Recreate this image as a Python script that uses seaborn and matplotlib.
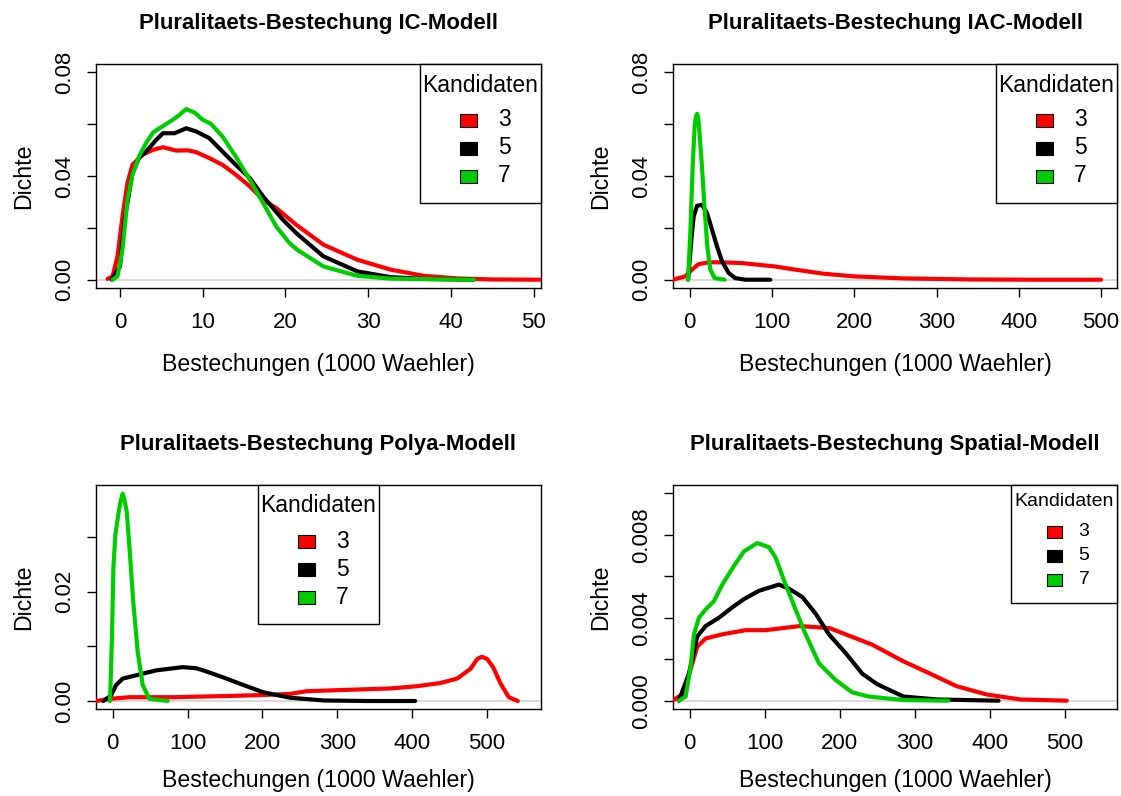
import numpy as np
import pandas as pd
import matplotlib
matplotlib.use("Agg")
import matplotlib.pyplot as plt
from matplotlib.patches import Rectangle
from matplotlib.transforms import Affine2D
import seaborn as sns

# ---------------------------------------------------------------------------
# Estimated densities of the bribery cost (in 1000 voters) per model and
# number of candidates
# ---------------------------------------------------------------------------
CANDIDATES = ["3", "5", "7"]
COLORS = {"3": "#FF0000", "5": "#000000", "7": "#00CD00"}

# IC model
ic_x3 = [-1.5, -0.9, -0.3, 0.3, 0.9, 1.5, 2.7, 4.0, 5.2, 6.8, 8.2, 9.2, 10.8,
         12.4, 14.0, 15.7, 17.3, 18.9, 21.3, 24.6, 28.7, 32.7, 36.7, 40.8, 45.0,
         50.8]
ic_y3 = [0.0003, 0.0013, 0.0090, 0.0244, 0.0373, 0.0443, 0.0482, 0.0501, 0.0511,
         0.0498, 0.0499, 0.0492, 0.0469, 0.0443, 0.0405, 0.0360, 0.0308, 0.0276,
         0.0212, 0.0135, 0.0077, 0.0039, 0.0015, 0.0005, 0.0001, 0.0]
ic_x5 = [-1.0, 0.0, 0.6, 1.5, 2.3, 3.15, 4.4, 5.2, 6.6, 8.0, 9.2, 10.8, 12.4,
         14.0, 15.7, 17.3, 19.7, 21.3, 24.6, 28.7, 32.7, 36.7, 42.8]
ic_y5 = [0.0, 0.0051, 0.0240, 0.0410, 0.0470, 0.0494, 0.0540, 0.0565, 0.0565,
         0.0584, 0.0572, 0.0546, 0.0494, 0.0443, 0.0392, 0.0321, 0.0231, 0.0180,
         0.0090, 0.0032, 0.0010, 0.0003, 0.0]
ic_x7 = [-0.9, -0.3, 0.3, 0.9, 1.5, 2.3, 3.15, 4.0, 5.2, 6.4, 7.2, 8.0, 9.0,
         10.0, 11.0, 12.4, 14.0, 15.7, 17.3, 18.9, 20.5, 21.4, 24.6, 28.7, 32.7,
         42.8]
ic_y7 = [0.0, 0.0013, 0.0116, 0.0308, 0.0405, 0.0475, 0.0527, 0.0568, 0.0593,
         0.0617, 0.0636, 0.0658, 0.0645, 0.0617, 0.0601, 0.0552, 0.0475, 0.0385,
         0.0296, 0.0205, 0.0141, 0.0116, 0.0051, 0.0015, 0.0004, 0.0]

# IAC model
iac_x3 = [-20.3, -5.2, 2.9, 10.9, 23.1, 40.0, 63.7, 104.0, 128.0, 163.0, 199.0,
          260.0, 341.0, 420.0, 500.0]
iac_y3 = [0.0, 0.0013, 0.0039, 0.0060, 0.0067, 0.0067, 0.0064, 0.0051, 0.0039,
          0.0023, 0.0013, 0.0005, 0.0001, 0.0, 0.0]
iac_x5 = [-1.9, 2.1, 4.9, 9.0, 15.0, 21.1, 27.2, 33.3, 39.4, 47.4, 55.5, 67.7,
          98.0]
iac_y5 = [0.0, 0.0154, 0.0244, 0.0285, 0.0289, 0.0257, 0.0193, 0.0128, 0.0071,
          0.0026, 0.0006, 0.0, 0.0]
iac_x7 = [-1.9, 0.85, 3.7, 6.1, 7.6, 9.0, 10.3, 11.4, 15.0, 18.3, 21.5, 25.2,
          30.4, 42.5]
iac_y7 = [0.0, 0.0180, 0.0437, 0.0591, 0.0628, 0.0640, 0.0628, 0.0591, 0.0437,
          0.0270, 0.0128, 0.0039, 0.0006, 0.0]

# Polya model
pol_x3 = [-21.4, -3.6, 23.0, 81.0, 148.0, 201.0, 237.0, 259.0, 282.0, 326.0,
          371.0, 406.0, 438.0, 460.0, 478.0, 487.0, 493.0, 500.0, 508.0, 518.0,
          529.0, 541.0]
pol_y3 = [0.0, 0.0004, 0.0007, 0.0007, 0.0009, 0.0011, 0.0013, 0.0018, 0.0019,
          0.0021, 0.0023, 0.0027, 0.0033, 0.0041, 0.0059, 0.0077, 0.0081, 0.0077,
          0.0062, 0.0032, 0.0007, 0.0]
pol_x5 = [-12.5, -2.3, 4.4, 13.4, 31.1, 57.9, 93.6, 111.0, 121.0, 148.0, 175.0,
          201.0, 237.0, 282.0, 340.0, 404.0]
pol_y5 = [0.0, 0.0010, 0.0029, 0.0041, 0.0047, 0.0056, 0.0062, 0.0060, 0.0056,
          0.0043, 0.0029, 0.0016, 0.0006, 0.0001, 0.0, 0.0]
pol_x7 = [-3.6, -0.9, 0.9, 3.5, 8.0, 11.0, 13.4, 16.0, 18.7, 22.2, 27.5, 33.4,
          40.1, 49.0, 73.5]
pol_y7 = [0.0, 0.0120, 0.0242, 0.0303, 0.0346, 0.0368, 0.0379, 0.0366, 0.0346,
          0.0285, 0.0181, 0.0090, 0.0029, 0.0004, 0.0]

# Spatial model
sp_x3 = [-23.0, -9.7, 1.3, 10.2, 21.4, 43.6, 74.7, 101.3, 146.7, 186.7, 208.0,
         243.6, 285.0, 321.0, 356.0, 396.0, 441.0, 503.0]
sp_y3 = [0.0, 0.0003, 0.0015, 0.0026, 0.0030, 0.0032, 0.0034, 0.0034, 0.0036,
         0.0035, 0.0032, 0.0027, 0.0019, 0.0013, 0.0007, 0.0003, 0.00006, 0.0]
sp_x5 = [-14.2, -0.9, 10.2, 21.4, 39.2, 56.9, 72.5, 92.5, 110.3, 119.2, 132.5,
         150.3, 168.0, 185.8, 208.0, 230.3, 250.0, 285.0, 330.0, 412.0]
sp_y5 = [0.0, 0.0013, 0.0031, 0.0036, 0.0040, 0.0045, 0.0049, 0.0053, 0.0055,
         0.0056, 0.0054, 0.0050, 0.0042, 0.0032, 0.0023, 0.0013, 0.0008, 0.0002,
         0.00006, 0.0]
sp_x7 = [-14.2, -5.3, 1.3, 5.8, 12.5, 21.4, 32.5, 43.6, 59.2, 72.5, 90.3, 105.8,
         114.7, 128.0, 141.3, 154.7, 172.5, 194.7, 217.0, 239.0, 285.0, 345.0]
sp_y7 = [0.0, 0.0002, 0.0016, 0.0032, 0.0040, 0.0044, 0.0048, 0.0056, 0.0065,
         0.0072, 0.0076, 0.0074, 0.0069, 0.0056, 0.0044, 0.0032, 0.0018, 0.0010,
         0.0004, 0.0002, 0.00003, 0.0]

TITLES = ["Pluralitaets-Bestechung IC-Modell",
          "Pluralitaets-Bestechung IAC-Modell",
          "Pluralitaets-Bestechung Polya-Modell",
          "Pluralitaets-Bestechung Spatial-Modell"]
X_LABEL = "Bestechungen (1000 Waehler)"
Y_LABEL = "Dichte"
LEGEND_TITLE = "Kandidaten"

X_TICKS_IC = [0, 10, 20, 30, 40, 50]
X_TICKS_WIDE = [0, 100, 200, 300, 400, 500]
Y_TICKS_08 = [0.00, 0.02, 0.04, 0.06, 0.08]
Y_LABELS_08 = ["0.00", "", "0.04", "", "0.08"]
Y_TICKS_03 = [0.00, 0.01, 0.02, 0.03]
Y_LABELS_03 = ["0.00", "", "0.02", ""]
Y_TICKS_010 = [0.000, 0.002, 0.004, 0.006, 0.008, 0.010]
Y_LABELS_010 = ["0.000", "", "0.004", "", "0.008", ""]


def frame(xs, ys):
    parts = []
    for k, x, y in zip(CANDIDATES, xs, ys):
        parts.append(pd.DataFrame({"x": x, "y": y, "k": k}))
    return pd.concat(parts, ignore_index=True)


panels = [
    dict(df=frame([ic_x3, ic_x5, ic_x7], [ic_y3, ic_y5, ic_y7]),
         xlim=(-2.9, 50.9), ylim=(-0.0032, 0.0832),
         xticks=X_TICKS_IC, yticks=Y_TICKS_08, ylabels=Y_LABELS_08,
         rect=[96, 64, 445, 224], key="right", xpad=14.5),
    dict(df=frame([iac_x3, iac_x5, iac_x7], [iac_y3, iac_y5, iac_y7]),
         xlim=(-20.2, 519.3), ylim=(-0.0032, 0.0832),
         xticks=X_TICKS_WIDE, yticks=Y_TICKS_08, ylabels=Y_LABELS_08,
         rect=[673, 64, 444, 224], key="right", xpad=14.5),
    dict(df=frame([pol_x3, pol_x5, pol_x7], [pol_y3, pol_y5, pol_y7]),
         xlim=(-22.3, 572.0), ylim=(-0.00146, 0.0395),
         xticks=X_TICKS_WIDE, yticks=Y_TICKS_03, ylabels=Y_LABELS_03,
         rect=[96, 485, 445, 224], key="mid", xpad=11),
    dict(df=frame([sp_x3, sp_x5, sp_x7], [sp_y3, sp_y5, sp_y7]),
         xlim=(-22.1, 569.9), ylim=(-0.0004, 0.0104),
         xticks=X_TICKS_WIDE, yticks=Y_TICKS_010, ylabels=Y_LABELS_010,
         rect=[673, 485, 444, 224], key="small", xpad=11),
]

sns.set_theme(style="ticks")
plt.rcParams["font.family"] = ["Liberation Sans", "DejaVu Sans"]
plt.rcParams["text.color"] = "black"
plt.rcParams["axes.labelcolor"] = "black"
plt.rcParams["xtick.color"] = "black"
plt.rcParams["ytick.color"] = "black"

W, H = 1121, 796
fig = plt.figure(figsize=(W / 100, H / 100), dpi=100)
fig.patch.set_facecolor("white")

# pixel coordinates measured from the top-left corner of the figure
px = Affine2D().scale(1.0 / W, -1.0 / H).translate(0, 1) + fig.transFigure

# key layouts: (box width, box height, title dy, entry dys, square x0,
#               square w, square h, text dx, font size)
KEYS = {
    "big": (121, 139, 21, [56, 84, 112], 40, 17, 13, 84, 16.5),
    "small": (106, 118, 16.5, [47, 71, 94.5], 36, 15, 12, 73, 14.0),
}


def draw_key(ax, left_px, top_px, layout):
    bw, bh, tdy, edys, sqx, sqw, sqh, tdx, fs = layout
    ax.add_artist(Rectangle((left_px, top_px), bw, bh, transform=px,
                            facecolor="white", edgecolor="black", lw=1.0,
                            clip_on=False, zorder=5))
    ax.text(left_px + bw / 2, top_px + tdy, LEGEND_TITLE, transform=px,
            ha="center", va="center", fontsize=fs, color="black", zorder=6)
    for k, dy in zip(CANDIDATES, edys):
        ax.add_artist(Rectangle((left_px + sqx, top_px + dy - sqh / 2), sqw, sqh,
                                transform=px, facecolor=COLORS[k],
                                edgecolor="black", lw=0.8, clip_on=False,
                                zorder=6))
        ax.text(left_px + tdx, top_px + dy, k, transform=px, ha="center",
                va="center", fontsize=fs, color="black", zorder=6)


for p, title in zip(panels, TITLES):
    lx, ty, w, h = p["rect"]
    ax = fig.add_axes([lx / W, 1 - (ty + h) / H, w / W, h / H])
    ax.axhline(0, color="#d3d3d3", lw=1.2, zorder=1)
    sns.lineplot(data=p["df"], x="x", y="y", hue="k", hue_order=CANDIDATES,
                 palette=COLORS, estimator=None, sort=False, lw=3.0,
                 legend=False, ax=ax, zorder=3,
                 solid_capstyle="round", solid_joinstyle="round")
    ax.set_xlim(*p["xlim"])
    ax.set_ylim(*p["ylim"])
    ax.set_xticks(p["xticks"])
    ax.set_xticklabels([str(t) for t in p["xticks"]])
    ax.set_yticks(p["yticks"])
    ax.set_yticklabels(p["ylabels"], rotation=90, va="center")
    for s in ax.spines.values():
        s.set_visible(True)
        s.set_color("black")
        s.set_linewidth(1.0)
    ax.tick_params(axis="both", direction="out", length=6.5, width=1.0,
                   color="black", labelsize=16, labelcolor="black")
    ax.tick_params(axis="x", pad=10.5)
    ax.tick_params(axis="y", pad=8.5)
    ax.set_xlabel(X_LABEL, fontsize=16.7, labelpad=p["xpad"], color="black")
    ax.set_ylabel(Y_LABEL, fontsize=16.7, labelpad=14, color="black")
    ax.set_title(title, fontsize=15.9, fontweight="bold", pad=25,
                 color="black")
    ax.set_facecolor("white")

    if p["key"] == "right":
        draw_key(ax, lx + w - 121, ty, KEYS["big"])
    elif p["key"] == "mid":
        draw_key(ax, 258, ty, KEYS["big"])
    else:
        draw_key(ax, lx + w - 106, ty, KEYS["small"])

fig.savefig("out.png", dpi=100, facecolor="white")
